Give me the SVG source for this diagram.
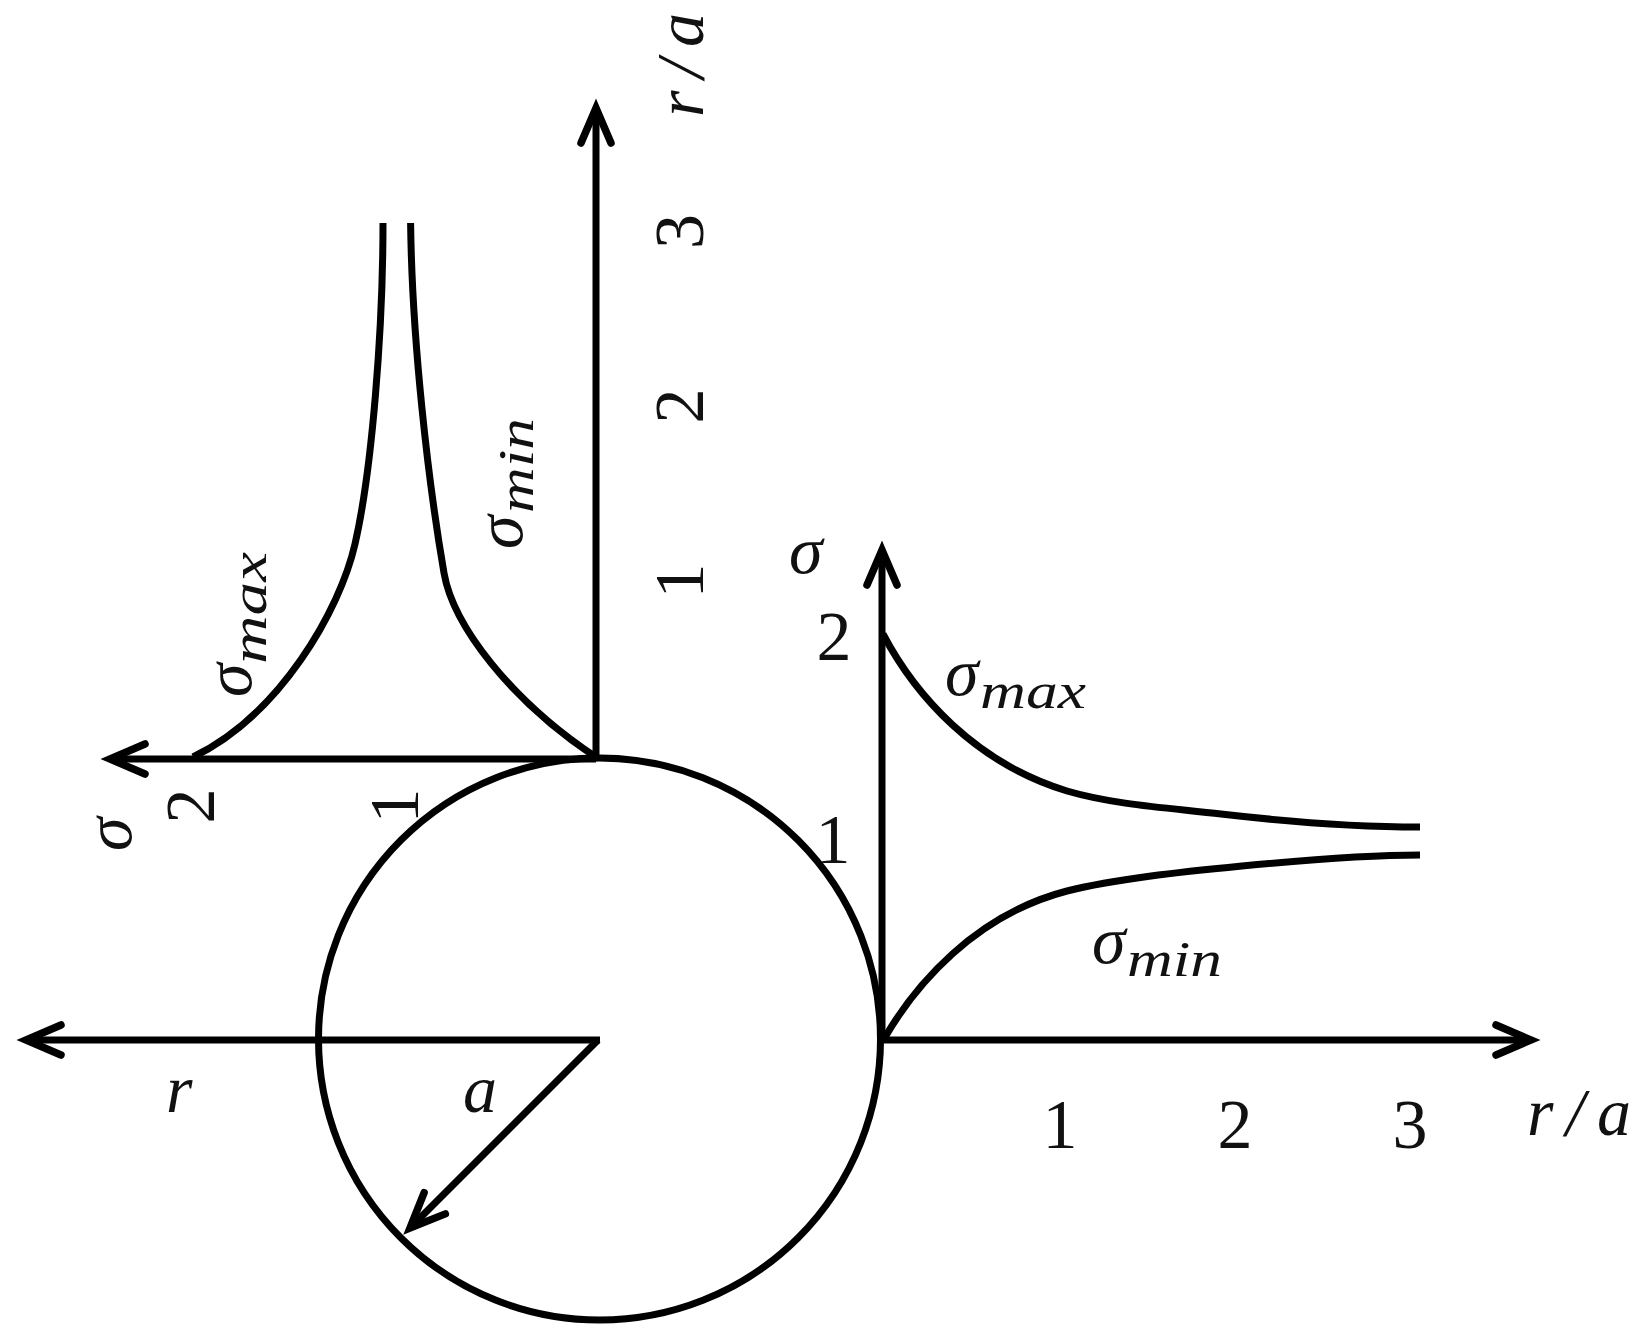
<svg xmlns="http://www.w3.org/2000/svg" width="1638" height="1332" viewBox="0 0 1638 1332">
<defs>
<style>
.l{fill:none;stroke:#000;stroke-width:7}
.c{fill:none;stroke:#000;stroke-width:7}
text{font-family:"Liberation Serif","DejaVu Serif",serif;fill:#111;font-size:70px}
.i{font-style:italic;font-size:68px}
.s{font-style:italic;font-size:50px}
</style>
<marker id="a" markerUnits="userSpaceOnUse" markerWidth="70" markerHeight="60" refX="44" refY="30" orient="auto">
<path d="M9 15 L44 30 L9 45" fill="none" stroke="#000" stroke-width="7.5" stroke-linecap="round" stroke-linejoin="miter" stroke-miterlimit="8"/>
</marker>
</defs>
<rect width="1638" height="1332" fill="#fff"/>
<g id="circle"><circle class="c" cx="599.5" cy="1039" r="281"/></g>
<g id="connectors">
<line class="l" x1="596" y1="760" x2="596" y2="108" marker-end="url(#a)"/>
<line class="l" x1="596" y1="759" x2="110" y2="759" marker-end="url(#a)"/>
<line class="l" x1="882" y1="1040" x2="882" y2="550" marker-end="url(#a)"/>
<line class="l" x1="882" y1="1040" x2="1531" y2="1040" marker-end="url(#a)"/>
<line class="l" x1="600" y1="1040" x2="26" y2="1040" marker-end="url(#a)"/>
<line class="l" x1="598" y1="1040" x2="410" y2="1228" marker-end="url(#a)"/>
</g>
<g id="curve-left-max"><path class="c" d="M383 223 C383 330 372 470 355 544 C340 610 280 715 193 757"/></g>
<g id="curve-left-min"><path class="c" d="M410.6 223 C412 340 428 480 444 573 C453 625 510 700 595.6 757"/></g>
<g id="curve-right-max"><path class="c" d="M883 634 C915 695 975 763 1067 791 C1115 805 1170 808 1221 814 C1290 822 1360 827 1420 827"/></g>
<g id="curve-right-min"><path class="c" d="M884 1039 C915 985 975 915 1067 891 C1115 879 1180 872 1242 866 C1305 860 1370 855 1420 855"/></g>
<g id="labels-top">
<text class="i" transform="translate(703 117) rotate(-90)" textLength="104">r/a</text>
<text transform="translate(703 231.5) rotate(-90)" text-anchor="middle">3</text>
<text transform="translate(703 406) rotate(-90)" text-anchor="middle">2</text>
<text transform="translate(703 581) rotate(-90)" text-anchor="middle">1</text>
<text class="i" transform="translate(522 549) rotate(-90)">σ</text>
<text class="s" transform="translate(533 513) rotate(-90)" textLength="95" lengthAdjust="spacingAndGlyphs">min</text>
<text class="i" transform="translate(251 697) rotate(-90)">σ</text>
<text class="s" transform="translate(266 664) rotate(-90)" textLength="112" lengthAdjust="spacingAndGlyphs">max</text>
<text class="i" transform="translate(131 851) rotate(-90)">σ</text>
<text transform="translate(214 806) rotate(-90)" text-anchor="middle">2</text>
<text transform="translate(418 806) rotate(-90)" text-anchor="middle">1</text>
</g>
<g id="labels-right">
<text class="i" x="789" y="573">σ</text>
<text x="834" y="660" text-anchor="middle">2</text>
<text x="833" y="863" text-anchor="middle">1</text>
<text class="i" x="945" y="695">σ</text>
<text class="s" x="980" y="708" textLength="106" lengthAdjust="spacingAndGlyphs">max</text>
<text class="i" x="1092" y="963">σ</text>
<text class="s" x="1127" y="976" textLength="95" lengthAdjust="spacingAndGlyphs">min</text>
<text x="1060" y="1148" text-anchor="middle">1</text>
<text x="1235" y="1148" text-anchor="middle">2</text>
<text x="1410" y="1148" text-anchor="middle">3</text>
<text class="i" x="1527" y="1135" textLength="104">r/a</text>
</g>
<g id="labels-bottom">
<text class="i" x="166" y="1112">r</text>
<text class="i" x="463" y="1112">a</text>
</g>
</svg>
